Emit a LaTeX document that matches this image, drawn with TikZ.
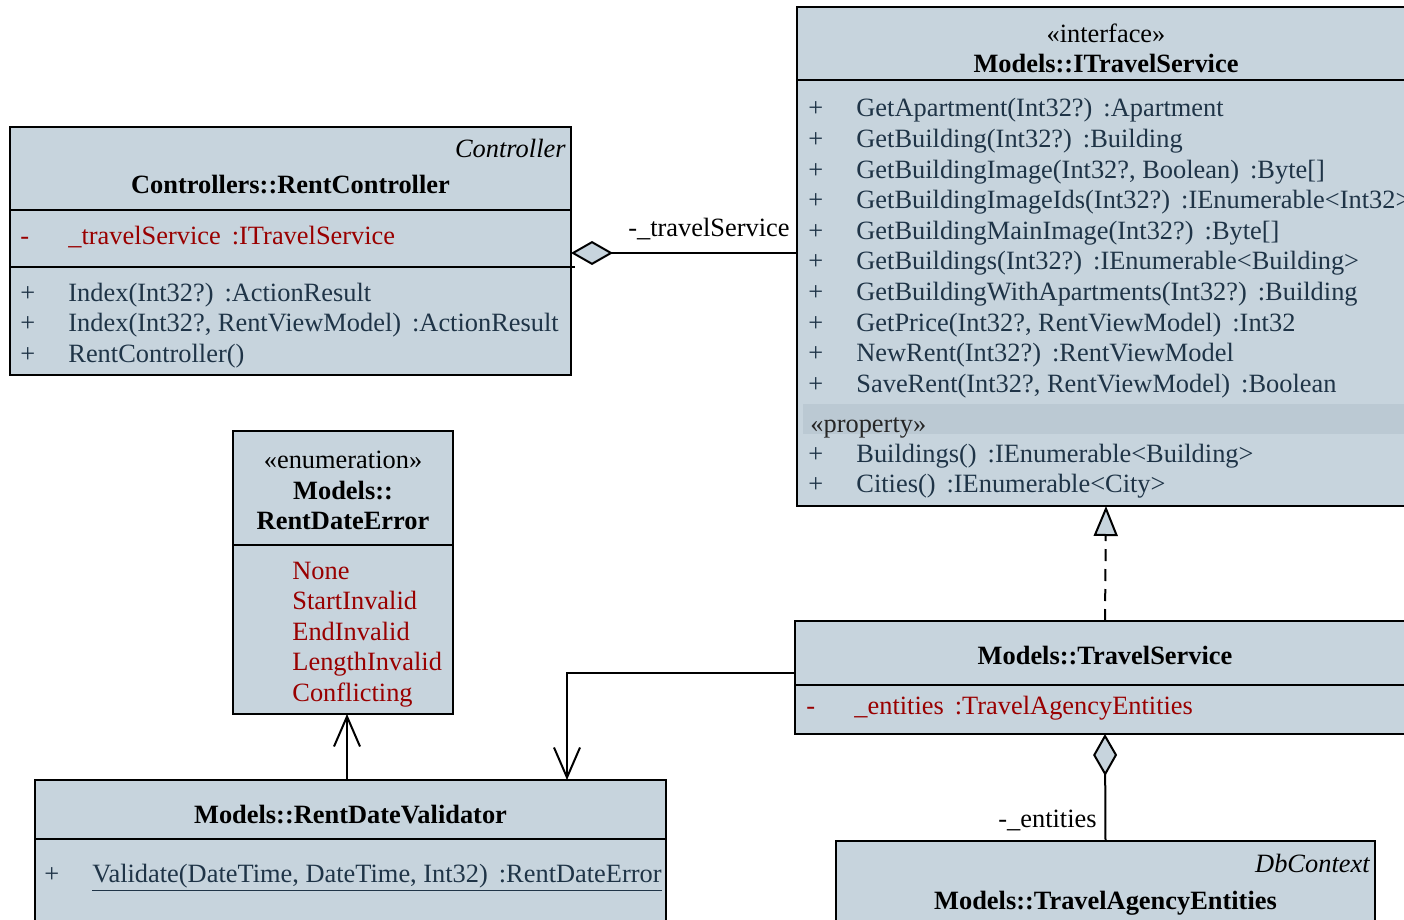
\documentclass[tikz,border=0pt]{standalone}
\usepackage{fontspec}
\setmainfont{Liberation Serif}
\usepackage{xcolor}
\definecolor{umlfill}{RGB}{199, 212, 221}
\definecolor{propfill}{RGB}{187, 201, 211}
\definecolor{membertext}{RGB}{31, 52, 71}
\definecolor{privred}{RGB}{153, 0, 0}
\usepackage{tikz}
\usetikzlibrary{arrows.meta, positioning, calc}

\newcommand{\memberrows}[1]{\begin{tabular}[t]{@{}p{24pt}@{}l@{}}#1\end{tabular}}
\newcommand{\stackrows}[2]{\begin{tabular}[t]{@{}#1@{}}#2\end{tabular}}
\newcommand{\tgap}{\,\ }

\tikzset{
  umlbox/.style={draw, fill=umlfill, line width=1pt, inner sep=0pt, outer sep=0pt, anchor=north west},
  umltext/.style={inner sep=0pt, font=\fontsize{13.2}{15.3}\selectfont},
  members/.style={umltext, anchor=base west, text=membertext},
  privmembers/.style={umltext, anchor=base west, text=privred},
  classname/.style={umltext, anchor=base, font=\fontsize{13.2}{15.3}\selectfont\bfseries},
  stereo/.style={umltext, anchor=base},
  parentname/.style={umltext, anchor=base east, font=\fontsize{13.2}{15.3}\selectfont\itshape},
  rolelabel/.style={umltext, anchor=base east},
  link/.style={line width=1pt},
  aggtail/.style={{Diamond[length=21pt, width=12pt, fill=umlfill]}-},
  navhead/.style={-{Straight Barb[length=15pt, width=13pt]}},
}

\begin{document}
\begin{tikzpicture}[x=0.5pt, y=-0.5pt]
    \clip (0,0) rectangle (1404,920);

    % Controllers::RentController
    \node[umlbox, minimum width=280.5pt, minimum height=124pt] (ctrl) at (10,127) {};
    \draw[link] (10,210) -- (571,210);
    \draw[link] (10,267) -- (575,267);
    \node[parentname] (ctrlparent) at (566,158) {Controller};
    \node[classname] (ctrlname) at (290.5,193) {Controllers::RentController};
    \node[privmembers] (ctrlattr) at (20,244) {\memberrows{- & \_travelService\tgap:ITravelService}};
    \node[members] (ctrlops) at (20,301) {\memberrows{
        + & Index(Int32?)\tgap:ActionResult\\
        + & Index(Int32?, RentViewModel)\tgap:ActionResult\\
        + & RentController()}};

    % Models::ITravelService
    \node[umlbox, minimum width=309pt, minimum height=249.5pt] (itf) at (797,7) {};
    \draw[link] (797,80) -- (1415,80);
    \fill[propfill] (803,404) rectangle (1415,434);
    \node[stereo] (itfstereo) at (1106,43) {«interface»};
    \node[classname] (itfname) at (1106,73) {Models::ITravelService};
    \node[members] (itfops) at (808,117) {\memberrows{
        + & GetApartment(Int32?)\tgap:Apartment\\
        + & GetBuilding(Int32?)\tgap:Building\\
        + & GetBuildingImage(Int32?, Boolean)\tgap:Byte[]\\
        + & GetBuildingImageIds(Int32?)\tgap:IEnumerable<Int32>\\
        + & GetBuildingMainImage(Int32?)\tgap:Byte[]\\
        + & GetBuildings(Int32?)\tgap:IEnumerable<Building>\\
        + & GetBuildingWithApartments(Int32?)\tgap:Building\\
        + & GetPrice(Int32?, RentViewModel)\tgap:Int32\\
        + & NewRent(Int32?)\tgap:RentViewModel\\
        + & SaveRent(Int32?, RentViewModel)\tgap:Boolean}};
    \node[members, text=black!85] (itfprop) at (810,432) {«property»};
    \node[members] (itfprops) at (808,462) {\memberrows{
        + & Buildings()\tgap:IEnumerable<Building>\\
        + & Cities()\tgap:IEnumerable<City>}};

    % Models::RentDateError
    \node[umlbox, minimum width=110pt, minimum height=141.5pt] (enum) at (233,431) {};
    \draw[link] (233,545) -- (453,545);
    \node[stereo] (enumstereo) at (343,468) {«enumeration»};
    \node[classname] (enumname) at (343,499) {\stackrows{c}{Models::\\RentDateError}};
    \node[umltext, anchor=base west, text=privred] (enumlits) at (292,579) {\stackrows{l}{None\\StartInvalid\\EndInvalid\\LengthInvalid\\Conflicting}};

    % Models::RentDateValidator
    \node[umlbox, minimum width=315.5pt, minimum height=80pt] (val) at (35,780) {};
    \draw[link] (35,839) -- (666,839);
    \node[classname] (valname) at (350.5,823) {Models::RentDateValidator};
    \node[members] (valops) at (44,882) {\memberrows{+ & \underline{Validate(DateTime, DateTime, Int32)\tgap:RentDateError}}};

    % Models::TravelService
    \node[umlbox, minimum width=310pt, minimum height=56.5pt] (tsvc) at (795,621) {};
    \draw[link] (795,685) -- (1415,685);
    \node[classname] (tsvcname) at (1105,664) {Models::TravelService};
    \node[privmembers] (tsvcattr) at (806,714) {\memberrows{- & \_entities\tgap:TravelAgencyEntities}};

    % Models::TravelAgencyEntities
    \node[umlbox, minimum width=269.5pt, minimum height=60pt] (tae) at (836,841) {};
    \node[parentname] (taeparent) at (1370,872) {DbContext};
    \node[classname] (taename) at (1105.5,909) {Models::TravelAgencyEntities};

    % relations
    \draw[link, aggtail] ([yshift=-1pt]ctrl.east) -- ([yshift=-1pt]ctrl.east -| itf.west);
    \node[rolelabel] (tsrole) at (790,236) {-\_travelService};

    \draw[link, dash pattern=on 6pt off 4pt, -{Triangle[fill=umlfill, length=15pt, width=12pt]}] (tsvc.north) -- (itf.south);

    \draw[link, aggtail] (tsvc.south) -- (tae.north);
    \node[rolelabel] (entrole) at (1097,827) {-\_entities};

    \coordinate (valin) at (val.north -| 567,0);
    \draw[link, navhead] ([yshift=2.25pt]tsvc.west) -| (valin);

    \draw[link, navhead] ([xshift=2pt]enum.south |- val.north) -- ([xshift=2pt]enum.south);
\end{tikzpicture}
\end{document}
